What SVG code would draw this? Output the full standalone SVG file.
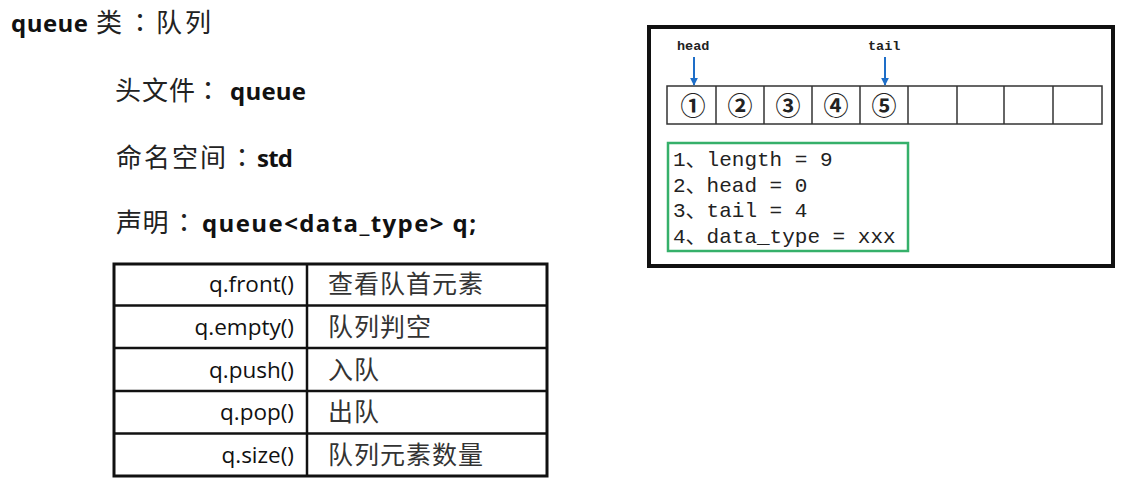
<svg xmlns="http://www.w3.org/2000/svg" width="1140" height="501" viewBox="0 0 1140 501">
<defs>
<style>
.cjk{font-family:"Noto Sans CJK SC",sans-serif;font-size:26px;fill:#222}
.col{font-family:"Noto Sans CJK TC",sans-serif;font-size:26px;fill:#222;text-anchor:middle}
.lat{font-family:"Open Sans","Noto Sans",sans-serif;font-weight:700;font-size:24px;fill:#111}
.fn{font-family:"Open Sans","Noto Sans",sans-serif;font-size:22.5px;fill:#111;text-anchor:end}
.desc{font-family:"Noto Sans CJK SC",sans-serif;font-size:25px;fill:#333}
.mono{font-family:"Liberation Mono","Noto Sans CJK SC",monospace;font-size:21px;fill:#222}
.lbl{font-family:"Liberation Mono",monospace;font-weight:700;font-size:13.5px;fill:#222}
.circ{font-family:"Noto Sans CJK SC",sans-serif;font-weight:700;font-size:25px;fill:#222;text-anchor:middle}
.cell{fill:none;stroke:#333;stroke-width:1.5}
.tl{stroke:#111;stroke-width:2.5}
.arr{stroke:#1e6ec8;stroke-width:2;fill:none;marker-end:url(#ah)}
</style>
<marker id="ah" viewBox="0 0 10 10" refX="9" refY="5" markerWidth="4" markerHeight="4" orient="auto" markerUnits="strokeWidth">
<path d="M0,0 L10,5 L0,10 z" fill="#1e6ec8"/>
</marker>
</defs>
<rect width="1140" height="501" fill="#fff"/>

<g id="title">
<text class="lat" x="11" y="32" textLength="77">queue</text>
<text class="cjk" x="96" y="32">类</text>
<text class="col" x="140" y="32">：</text>
<text class="cjk" x="156" y="32" letter-spacing="3">队列</text>
</g>
<g id="header-file">
<text class="cjk" x="115" y="100" letter-spacing="1">头文件</text>
<text class="col" x="208" y="100">：</text>
<text class="lat" x="230" y="100" textLength="76">queue</text>
</g>
<g id="namespace">
<text class="cjk" x="116" y="167" letter-spacing="2">命名空间</text>
<text class="col" x="242" y="167">：</text>
<text class="lat" x="257" y="167" textLength="36">std</text>
</g>
<g id="declaration">
<text class="cjk" x="116" y="232" letter-spacing="0.5">声明</text>
<text class="col" x="184" y="232">：</text>
<text class="lat" x="202" y="232" textLength="274">queue&lt;data_type&gt; q;</text>
</g>

<g id="api-table">
<rect x="114" y="264" width="433" height="212" fill="none" stroke="#111" stroke-width="3"/>
<line class="tl" x1="307" y1="264" x2="307" y2="476"/>
<line class="tl" x1="114" y1="305.5" x2="547" y2="305.5"/>
<line class="tl" x1="114" y1="348" x2="547" y2="348"/>
<line class="tl" x1="114" y1="391" x2="547" y2="391"/>
<line class="tl" x1="114" y1="433.5" x2="547" y2="433.5"/>
<text class="fn" x="294" y="292">q.front()</text>
<text class="desc" x="328" y="293" letter-spacing="1">查看队首元素</text>
<text class="fn" x="294" y="335">q.empty()</text>
<text class="desc" x="328" y="336" letter-spacing="1">队列判空</text>
<text class="fn" x="294" y="378">q.push()</text>
<text class="desc" x="328" y="379" letter-spacing="1">入队</text>
<text class="fn" x="294" y="420">q.pop()</text>
<text class="desc" x="328" y="421" letter-spacing="1">出队</text>
<text class="fn" x="294" y="463">q.size()</text>
<text class="desc" x="328" y="464" letter-spacing="1">队列元素数量</text>
</g>

<g id="queue-frame">
<rect x="649" y="27" width="464" height="239" fill="none" stroke="#111" stroke-width="4"/>
</g>

<g id="queue-cells">
<rect class="cell" x="667" y="86" width="435" height="38"/>
<line class="cell" x1="716" y1="86" x2="716" y2="124"/>
<line class="cell" x1="764" y1="86" x2="764" y2="124"/>
<line class="cell" x1="812" y1="86" x2="812" y2="124"/>
<line class="cell" x1="860" y1="86" x2="860" y2="124"/>
<line class="cell" x1="908" y1="86" x2="908" y2="124"/>
<line class="cell" x1="957" y1="86" x2="957" y2="124"/>
<line class="cell" x1="1004" y1="86" x2="1004" y2="124"/>
<line class="cell" x1="1053" y1="86" x2="1053" y2="124"/>
<text class="circ" x="693" y="115">①</text>
<text class="circ" x="740" y="115">②</text>
<text class="circ" x="788" y="115">③</text>
<text class="circ" x="836" y="115">④</text>
<text class="circ" x="884" y="115">⑤</text>
</g>

<g id="head-label"><text class="lbl" x="677" y="50">head</text></g>
<g id="tail-label"><text class="lbl" x="868" y="50">tail</text></g>

<g id="info-box">
<rect x="668" y="143" width="240" height="108" fill="none" stroke="#35b06a" stroke-width="2.5"/>
<text class="mono" x="673" y="166">1、length = 9</text>
<text class="mono" x="673" y="192">2、head = 0</text>
<text class="mono" x="673" y="217">3、tail = 4</text>
<text class="mono" x="673" y="243">4、data_type = xxx</text>
</g>

<g id="connectors">
<line class="arr" x1="694" y1="57" x2="694" y2="85"/>
<line class="arr" x1="885" y1="57" x2="885" y2="85"/>
</g>
</svg>
